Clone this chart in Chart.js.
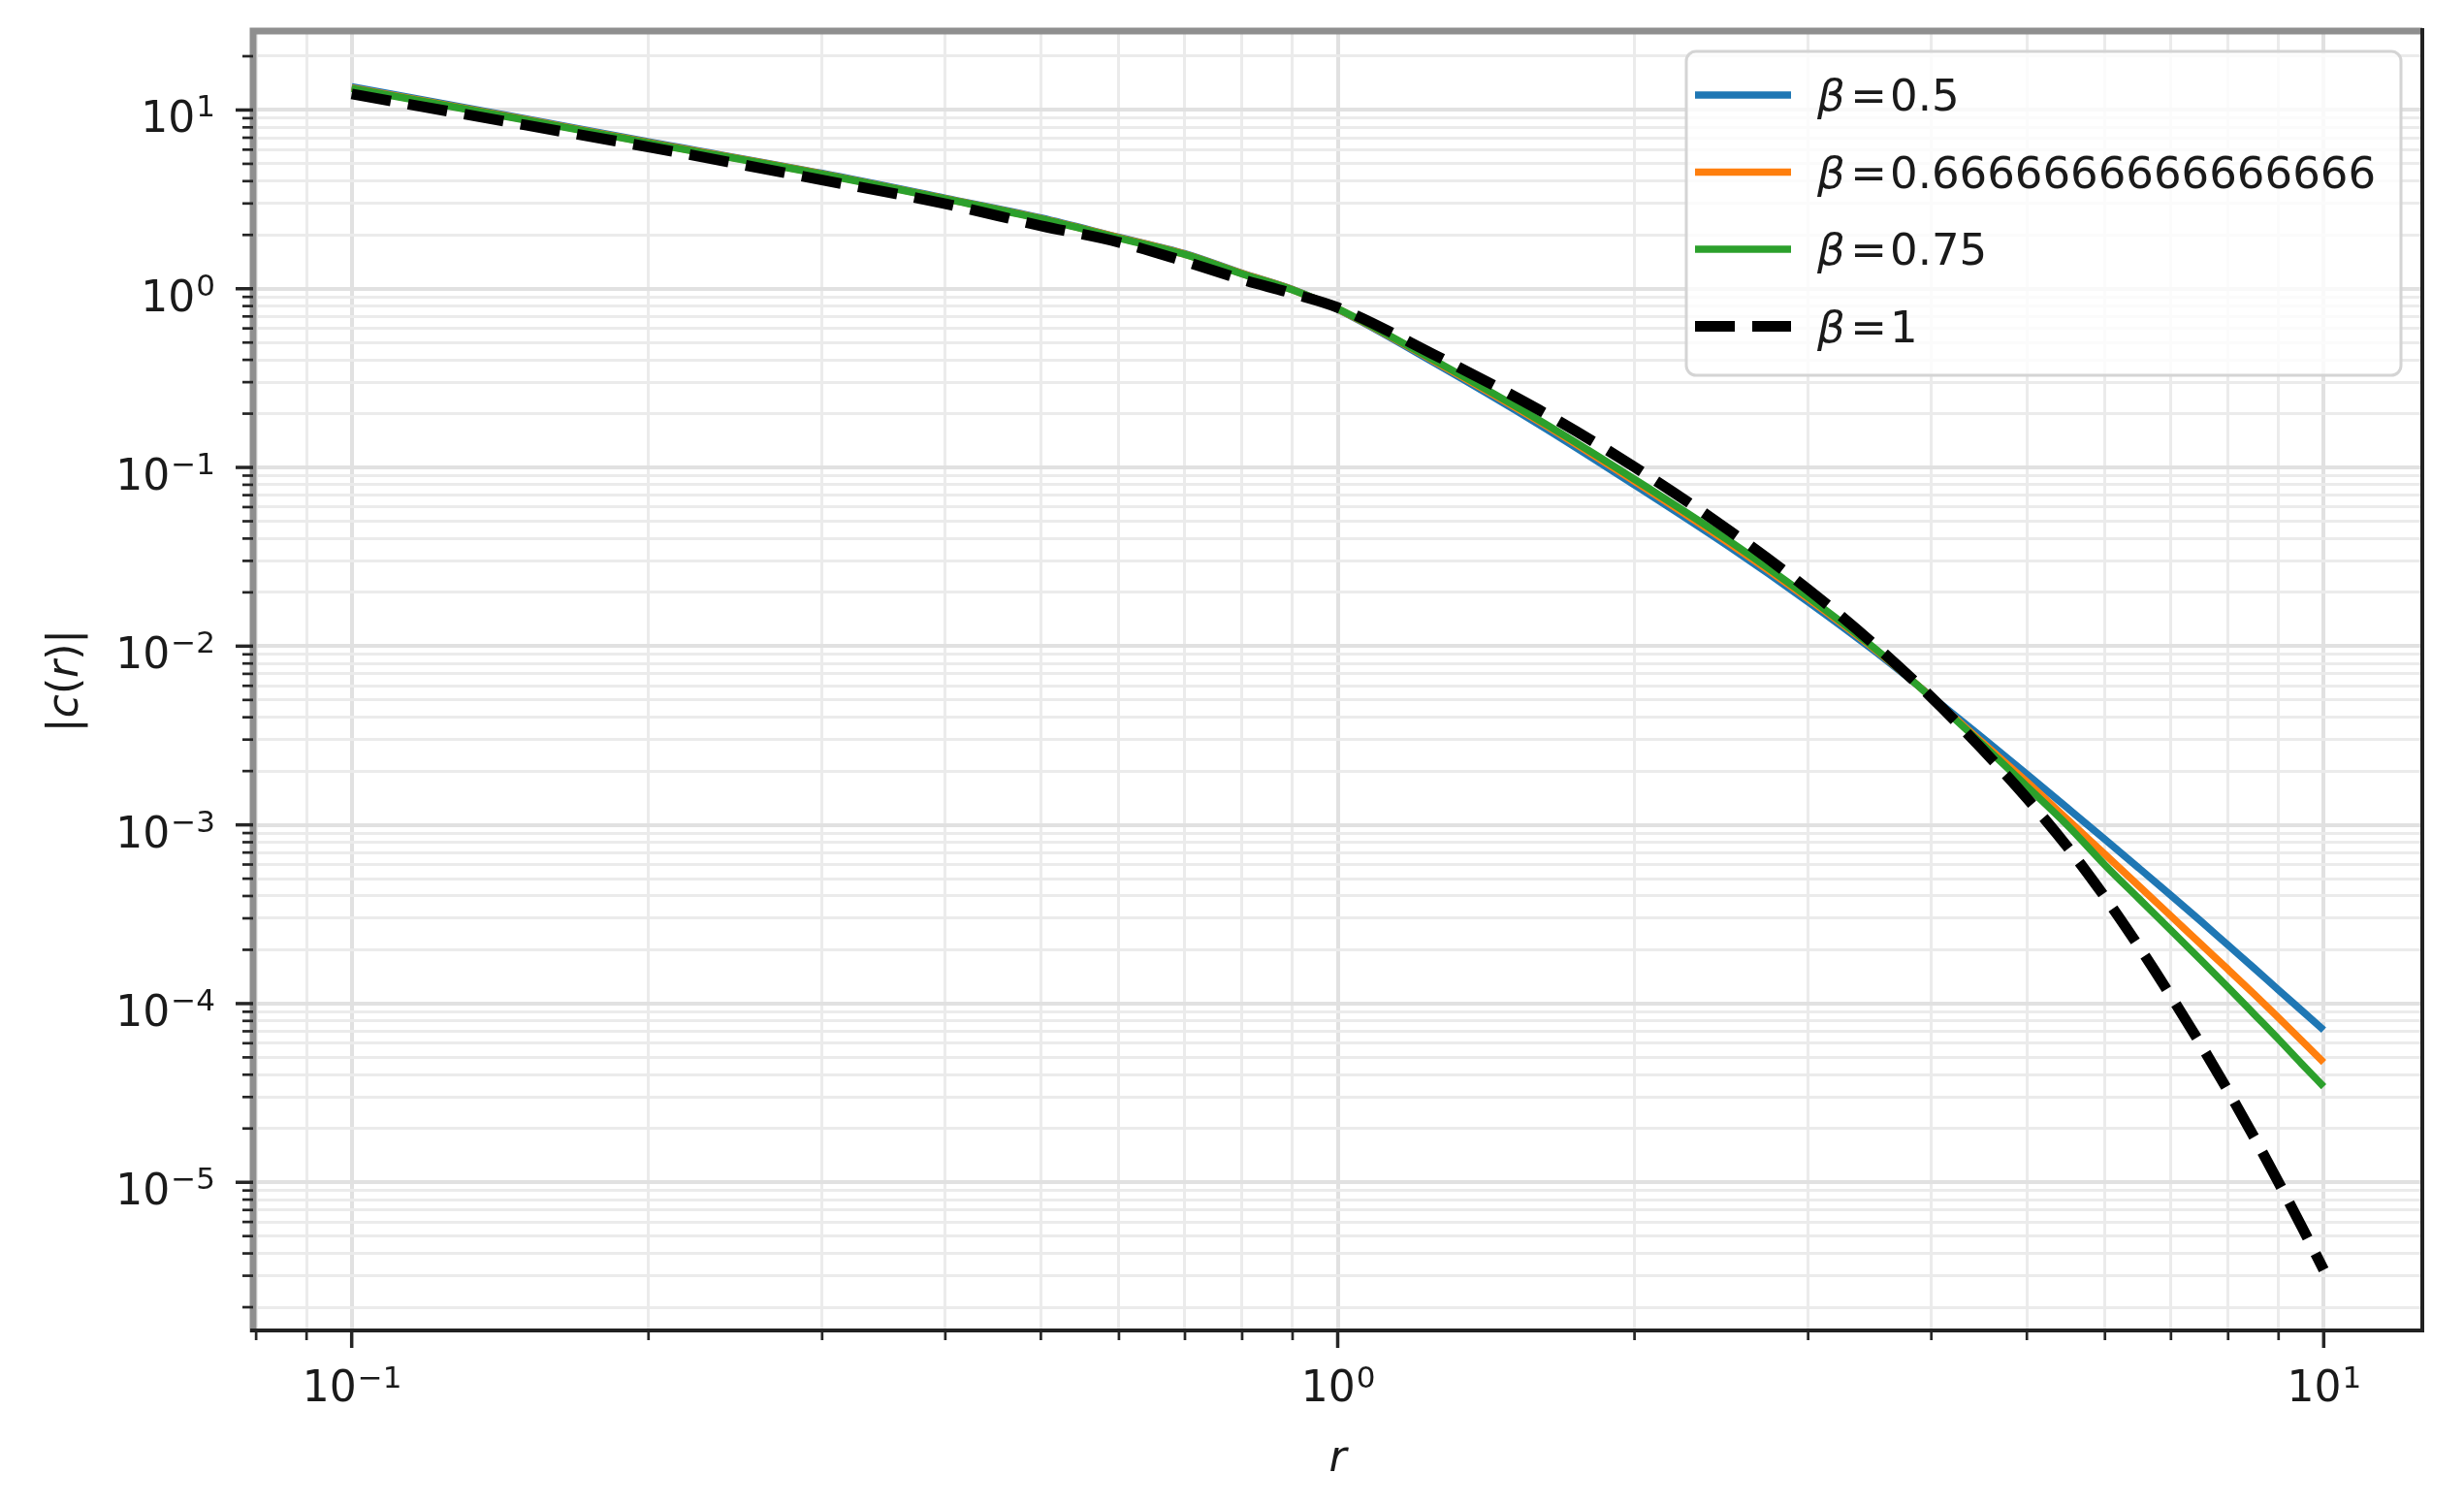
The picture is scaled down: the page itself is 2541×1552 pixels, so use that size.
<!DOCTYPE html>
<html lang="en">
<head>
<meta charset="UTF-8">
<title>|c(r)| against r</title>
<script src="https://cdn.jsdelivr.net/npm/chart.js@4.4.1/dist/chart.umd.min.js"></script>
<style>
  html, body { margin: 0; padding: 0; background: #fff; }
  .chart-wrapper { width: 2541px; height: 1552px; position: relative; }
</style>
</head>
<body>
<div class="chart-wrapper"><canvas id="corrChart"></canvas></div>
<script>
  // r and |c(r)|
  const rValues = [0.1, 0.15, 0.2, 0.3, 0.4, 0.5, 0.6, 0.7, 0.8, 0.9, 1, 1.25, 1.6, 2, 2.5, 3, 3.5, 4, 4.5, 5, 5.5, 6, 6.5, 7, 7.5, 8, 8.5, 9, 9.5, 10];
  const cBeta05 = [13.5, 8.95, 6.64, 4.42, 3.21, 2.49, 1.94, 1.57, 1.22, 0.991, 0.767, 0.388, 0.174, 0.0798, 0.0357, 0.0177, 0.00942, 0.00524, 0.00310, 0.00192, 0.00124, 0.000830, 0.000571, 0.000403, 0.000290, 0.000212, 0.000158, 0.000119, 0.0000914, 0.0000711];
  const cBeta067 = [13.3, 8.85, 6.58, 4.39, 3.19, 2.47, 1.93, 1.56, 1.215, 0.988, 0.770, 0.396, 0.181, 0.0836, 0.0373, 0.0184, 0.00966, 0.00519, 0.00291, 0.00174, 0.00107, 0.000684, 0.000453, 0.000309, 0.000216, 0.000155, 0.000113, 0.0000832, 0.0000621, 0.0000468];
  const cBeta075 = [13.2, 8.8, 6.55, 4.37, 3.18, 2.46, 1.92, 1.555, 1.21, 0.985, 0.773, 0.400, 0.184, 0.0859, 0.0385, 0.0188, 0.00977, 0.00515, 0.00284, 0.00164, 0.000991, 0.000596, 0.000385, 0.000257, 0.000176, 0.000123, 0.0000873, 0.0000631, 0.0000460, 0.0000343];
  const cBeta1 = [12.3, 8.24, 6.21, 4.06, 2.99, 2.25, 1.82, 1.42, 1.127, 0.940, 0.785, 0.430, 0.210, 0.1005, 0.0440, 0.0208, 0.01023, 0.00518, 0.00267, 0.00141, 0.000750, 0.000394, 0.000207, 0.000110, 0.0000593, 0.0000324, 0.0000179, 0.00000998, 0.00000565, 0.00000324];

  const betaLabels = ['0.5', '0.6666666666666666', '0.75', '1'];
  const seriesColors = ['#1f77b4', '#ff7f0e', '#2ca02c', '#000000'];
  const xDecades = [-2, -1, 0, 1];
  const yDecades = [-6, -5, -4, -3, -2, -1, 0, 1];
  const xLimits = [Math.pow(10, -1.1), Math.pow(10, 1.1)];
  const yLimits = [Math.pow(10, -5.829), Math.pow(10, 1.442)];

  const FONT = '"DejaVu Sans", sans-serif';

  function isMajor(v) {
    const l = Math.log10(v);
    return Math.abs(l - Math.round(l)) < 1e-9;
  }

  function logTicks(decades, lim) {
    const out = [];
    decades.forEach(d => {
      for (let k = 1; k <= 9; k++) {
        const v = k * Math.pow(10, d);
        if (v >= lim[0] && v <= lim[1]) out.push(v);
      }
    });
    return out;
  }

  const xTickValues = logTicks(xDecades, xLimits);
  const yTickValues = logTicks(yDecades, yLimits);

  function expText(v) {
    const e = Math.round(Math.log10(v));
    return e < 0 ? '\u2212' + (-e) : String(e);
  }

  function gridColor(c) {
    return c.tick && isMajor(c.tick.value) ? '#e1e1e1' : '#ebebeb';
  }
  function gridWidth(c) {
    return c.tick && isMajor(c.tick.value) ? 4 : 3;
  }

  // spines, tick marks, tick labels, axis titles and the legend box
  const axesDecor = {
    id: 'axesDecor',
    afterDraw(chart) {
      const ctx = chart.ctx;
      const a = chart.chartArea;
      const xs = chart.scales.x;
      const ys = chart.scales.y;
      ctx.save();

      ctx.lineCap = 'butt';
      ctx.strokeStyle = '#8f8f8f';
      ctx.lineWidth = 7;
      ctx.beginPath();
      ctx.moveTo(a.left, a.bottom + 2);
      ctx.lineTo(a.left, a.top);
      ctx.lineTo(a.right, a.top);
      ctx.stroke();
      ctx.strokeStyle = '#222';
      ctx.lineWidth = 4;
      ctx.beginPath();
      ctx.moveTo(a.left - 3, a.bottom);
      ctx.lineTo(a.right, a.bottom);
      ctx.lineTo(a.right, a.top - 3);
      ctx.stroke();

      ctx.strokeStyle = '#262626';
      xTickValues.forEach(v => {
        const px = xs.getPixelForValue(v);
        const major = isMajor(v);
        ctx.lineWidth = major ? 3.5 : 2.7;
        ctx.beginPath();
        ctx.moveTo(px, a.bottom);
        ctx.lineTo(px, a.bottom + (major ? 18 : 10));
        ctx.stroke();
      });
      yTickValues.forEach(v => {
        const py = ys.getPixelForValue(v);
        const major = isMajor(v);
        ctx.lineWidth = major ? 3.5 : 2.7;
        ctx.beginPath();
        ctx.moveTo(a.left, py);
        ctx.lineTo(a.left - (major ? 18 : 11), py);
        ctx.stroke();
      });

      ctx.fillStyle = '#1a1a1a';
      ctx.textBaseline = 'alphabetic';
      ctx.textAlign = 'left';
      xTickValues.filter(isMajor).forEach(v => {
        const px = xs.getPixelForValue(v);
        ctx.font = '44px ' + FONT;
        const wBase = ctx.measureText('10').width;
        ctx.font = '31px ' + FONT;
        const sup = expText(v);
        const wSup = ctx.measureText(sup).width;
        const x0 = px - (wBase + wSup) / 2;
        ctx.font = '44px ' + FONT;
        ctx.fillText('10', x0, a.bottom + 73);
        ctx.font = '31px ' + FONT;
        ctx.fillText(sup, x0 + wBase + 1, a.bottom + 59);
      });
      yTickValues.filter(isMajor).forEach(v => {
        const py = ys.getPixelForValue(v);
        const sup = expText(v);
        ctx.font = '31px ' + FONT;
        const wSup = ctx.measureText(sup).width;
        const xs0 = a.left - 39 - wSup;
        ctx.fillText(sup, xs0, py + 7);
        ctx.font = '44px ' + FONT;
        ctx.textAlign = 'right';
        ctx.fillText('10', xs0 - 1, py + 23);
        ctx.textAlign = 'left';
      });

      // x title
      ctx.font = 'italic 44px ' + FONT;
      ctx.textAlign = 'center';
      ctx.fillText('r', (a.left + a.right) / 2, 1517);

      // y title |c(r)|, rotated
      const parts = [['|', ''], ['c', 'italic '], ['(', ''], ['r', 'italic '], [')', ''], ['|', '']];
      ctx.textAlign = 'left';
      let total = 0;
      parts.forEach(p => { ctx.font = p[1] + '44px ' + FONT; total += ctx.measureText(p[0]).width; });
      ctx.save();
      ctx.translate(80, (a.top + a.bottom) / 2);
      ctx.rotate(-Math.PI / 2);
      let cx = -total / 2;
      parts.forEach(p => {
        ctx.font = p[1] + '44px ' + FONT;
        ctx.fillText(p[0], cx, 0);
        cx += ctx.measureText(p[0]).width;
      });
      ctx.restore();

      // legend
      const box = { x: 1739, y: 53, w: 737, h: 334 };
      ctx.beginPath();
      ctx.roundRect(box.x, box.y, box.w, box.h, 10);
      ctx.fillStyle = 'rgba(255,255,255,0.8)';
      ctx.fill();
      ctx.strokeStyle = '#d4d4d4';
      ctx.lineWidth = 3;
      ctx.stroke();
      chart.data.datasets.forEach((ds, i) => {
        const rowY = 98 + i * 79.5;
        ctx.strokeStyle = ds.borderColor;
        ctx.lineWidth = ds.borderWidth;
        ctx.setLineDash(ds.borderDash || []);
        ctx.beginPath();
        ctx.moveTo(1748, rowY);
        ctx.lineTo(1847, rowY);
        ctx.stroke();
        ctx.setLineDash([]);
        ctx.fillStyle = '#1a1a1a';
        ctx.textAlign = 'left';
        ctx.font = 'italic 45px ' + FONT;
        ctx.fillText('\u03b2', 1874, rowY + 16);
        ctx.font = '45px ' + FONT;
        ctx.textAlign = 'center';
        ctx.fillText('=', 1927, rowY + 16);
        ctx.textAlign = 'left';
        ctx.fillText(betaLabels[i], 1949, rowY + 16);
      });

      ctx.restore();
    }
  };

  function series(values) {
    return rValues.map((r, i) => ({ x: r, y: values[i] }));
  }

  const datasets = [
    { label: '\u03b2 = ' + betaLabels[0], data: series(cBeta05), borderColor: seriesColors[0], borderWidth: 7.5, order: 4 },
    { label: '\u03b2 = ' + betaLabels[1], data: series(cBeta067), borderColor: seriesColors[1], borderWidth: 7.5, order: 3 },
    { label: '\u03b2 = ' + betaLabels[2], data: series(cBeta075), borderColor: seriesColors[2], borderWidth: 7.5, order: 2 },
    { label: '\u03b2 = ' + betaLabels[3], data: series(cBeta1), borderColor: seriesColors[3], borderWidth: 11, borderDash: [41, 18], order: 1 }
  ];
  datasets.forEach(d => {
    d.pointRadius = 0;
    d.fill = false;
    d.cubicInterpolationMode = 'monotone';
    d.borderCapStyle = 'butt';
  });

  new Chart(document.getElementById('corrChart'), {
    type: 'line',
    data: { datasets },
    options: {
      responsive: true,
      maintainAspectRatio: false,
      animation: false,
      devicePixelRatio: 1,
      layout: { padding: { top: 32, right: 43, left: 0, bottom: 0 } },
      plugins: { legend: { display: false }, tooltip: { enabled: false } },
      scales: {
        x: {
          type: 'logarithmic',
          min: xLimits[0],
          max: xLimits[1],
          afterBuildTicks: s => { s.ticks = xTickValues.map(v => ({ value: v })); },
          afterFit: s => { s.height = 180; },
          ticks: { display: false, autoSkip: false },
          grid: { color: gridColor, lineWidth: gridWidth, drawTicks: false },
          border: { display: false }
        },
        y: {
          type: 'logarithmic',
          min: yLimits[0],
          max: yLimits[1],
          afterBuildTicks: s => { s.ticks = yTickValues.map(v => ({ value: v })); },
          afterFit: s => { s.width = 261; },
          ticks: { display: false, autoSkip: false },
          grid: { color: gridColor, lineWidth: gridWidth, drawTicks: false },
          border: { display: false }
        }
      }
    },
    plugins: [axesDecor]
  });
</script>
</body>
</html>
